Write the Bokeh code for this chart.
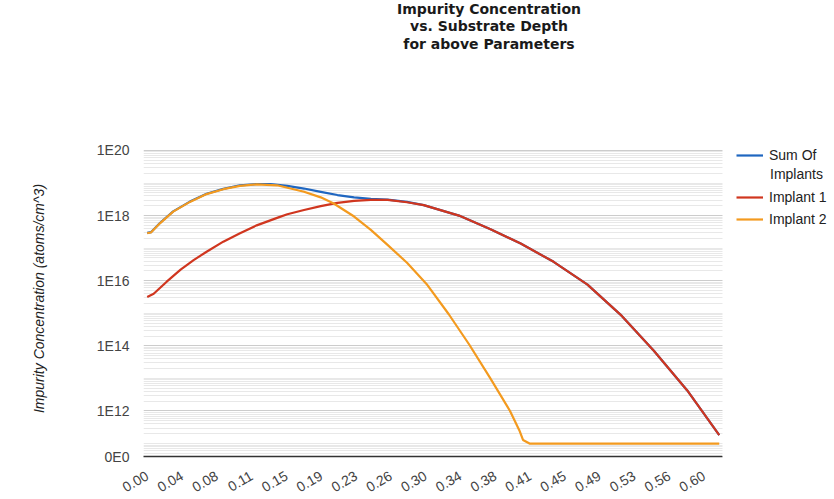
import math
from bokeh.plotting import figure
from bokeh.models import (Range1d, FixedTicker, Legend, LegendItem, Title, Label, BoxAnnotation)
from bokeh.embed import file_html
from bokeh.resources import INLINE

# ---------------- data ----------------
title_lines = ["Impurity Concentration", "vs. Substrate Depth", "for above Parameters"]
y_title = "Impurity Concentration (atoms/cm^3)"

x_ticks = [0.0, 0.0375, 0.075, 0.1125, 0.15, 0.1875, 0.225, 0.2625, 0.3,
           0.3375, 0.375, 0.4125, 0.45, 0.4875, 0.525, 0.5625, 0.6]
x_tick_labels = ["0.00", "0.04", "0.08", "0.11", "0.15", "0.19", "0.23", "0.26", "0.30",
                 "0.34", "0.38", "0.41", "0.45", "0.49", "0.53", "0.56", "0.60"]

y_ticks = [4e10, 1e12, 1e14, 1e16, 1e18, 1e20]
y_tick_labels = ["0E0", "1E12", "1E14", "1E16", "1E18", "1E20"]

sum_depth = [0.000, 0.004, 0.014, 0.028, 0.046, 0.064, 0.082, 0.100, 0.118, 0.133,
             0.151, 0.169, 0.187, 0.205, 0.223, 0.241, 0.259, 0.280, 0.298, 0.336,
             0.370, 0.4025, 0.438, 0.4745, 0.510, 0.546, 0.582, 0.6165]
sum_conc = [2.95e17, 3.09e17, 6.03e17, 1.35e18, 2.69e18, 4.68e18, 6.61e18, 8.51e18, 9.33e18, 9.33e18,
            8.13e18, 6.76e18, 5.37e18, 4.27e18, 3.63e18, 3.24e18, 3.09e18, 2.63e18, 2.09e18, 1.0e18,
            3.80e17, 1.38e17, 3.80e16, 7.59e15, 9.12e14, 7.08e13, 4.27e12, 1.82e11]

imp1_depth = [0.000, 0.007, 0.021, 0.036, 0.050, 0.064, 0.082, 0.100, 0.118, 0.140,
              0.151, 0.169, 0.187, 0.205, 0.223, 0.241, 0.259, 0.280, 0.298, 0.336,
              0.370, 0.4025, 0.438, 0.4745, 0.510, 0.546, 0.582, 0.6165]
imp1_conc = [3.16e15, 3.98e15, 9.33e15, 2.19e16, 4.27e16, 7.76e16, 1.58e17, 2.88e17, 5.01e17, 8.51e17,
             1.10e18, 1.48e18, 1.95e18, 2.45e18, 2.82e18, 3.02e18, 3.02e18, 2.57e18, 2.09e18, 1.0e18,
             3.80e17, 1.38e17, 3.80e16, 7.59e15, 9.12e14, 7.08e13, 4.27e12, 1.82e11]

imp2_depth = [0.000, 0.004, 0.014, 0.028, 0.046, 0.064, 0.082, 0.100, 0.118, 0.140,
              0.169, 0.187, 0.201, 0.223, 0.241, 0.259, 0.280, 0.301, 0.325, 0.347,
              0.369, 0.391, 0.401, 0.405, 0.412, 0.6165]
imp2_conc = [2.88e17, 3.02e17, 5.89e17, 1.32e18, 2.63e18, 4.57e18, 6.46e18, 8.13e18, 9.12e18, 8.51e18,
             5.37e18, 3.63e18, 2.34e18, 9.33e17, 3.63e17, 1.26e17, 3.55e16, 7.94e15, 9.33e14, 1.10e14,
             1.1e13, 1.0e12, 2.57e11, 1.29e11, 1.0e11, 1.0e11]

series_names = ["Sum Of", "Implant 1", "Implant 2"]
series_cont = "Implants"
series_colors = ["#1f66c0", "#d0361f", "#f39a1f"]

# ---------------- layout constants ----------------
W, H = 834, 499
FL, FB = 143, 458                   # frame left / frame bottom (px)
DATA_TOP = 150                      # pixel row of 1E20
FT = 140                            # frame top (a little above 1E20 so the legend is not clipped)
DATA_RIGHT = 722                    # right edge of plotting area (px)
X0, X1 = -0.004, 0.620              # visible depth range
Y0, Y1 = 4e10, 1e20                 # visible concentration range
px_per_unit = (DATA_RIGHT - FL) / (X1 - X0)
x_end = X0 + (W - FL) / px_per_unit
px_per_decade = (FB - DATA_TOP) / (math.log10(Y1) - math.log10(Y0))
y_end = 10 ** (math.log10(Y1) + (DATA_TOP - FT) / px_per_decade)

FONT = "Liberation Sans"
p = figure(width=W, height=H, output_backend="svg", toolbar_location=None,
           y_axis_type="log",
           x_range=Range1d(X0, x_end), y_range=Range1d(Y0, y_end),
           min_border_left=FL, min_border_right=0, min_border_top=FT, min_border_bottom=H - FB)
p.outline_line_color = None
p.background_fill_color = "white"

# minor grid positions (log decades)
minor = []
for e in range(10, 20):
    for k in range(1, 10):
        v = k * 10.0 ** e
        if k == 1 and e % 2 == 0:
            continue
        if Y0 < v < Y1:
            minor.append(v)

p.yaxis.ticker = FixedTicker(ticks=y_ticks, minor_ticks=minor)
p.yaxis.major_label_overrides = {t: l for t, l in zip(y_ticks, y_tick_labels)}
p.yaxis.axis_line_color = None
p.yaxis.major_tick_line_color = None
p.yaxis.minor_tick_line_color = None
p.yaxis.major_label_standoff = 8
p.yaxis.major_label_text_font = FONT
p.yaxis.major_label_text_font_size = "14px"
p.yaxis.major_label_text_color = "#444444"
p.yaxis.axis_label = y_title
p.yaxis.axis_label_text_font = FONT
p.yaxis.axis_label_text_font_style = "italic"
p.yaxis.axis_label_text_font_size = "14px"
p.yaxis.axis_label_text_color = "#222222"
p.yaxis.axis_label_standoff = 47

p.ygrid.grid_line_color = "#cccccc"
p.ygrid.minor_grid_line_color = "#e8e8e8"
p.xgrid.grid_line_color = None

p.xaxis.ticker = FixedTicker(ticks=x_ticks)
p.xaxis.bounds = (X0, X1)
p.xaxis.major_label_overrides = {t: l for t, l in zip(x_ticks, x_tick_labels)}
p.xaxis.major_label_orientation = math.pi / 6
p.xaxis.axis_line_color = "#333333"
p.xaxis.axis_line_width = 1.5
p.xaxis.major_tick_line_color = None
p.xaxis.minor_tick_line_color = None
p.xaxis.major_label_standoff = 12
p.xaxis.major_label_text_font = FONT
p.xaxis.major_label_text_font_size = "14px"
p.xaxis.major_label_text_color = "#444444"

r_sum = p.line(sum_depth, sum_conc, line_color=series_colors[0], line_width=2.2, line_join="round")
r1 = p.line(imp1_depth, imp1_conc, line_color=series_colors[1], line_width=2.2, line_join="round")
r2 = p.line(imp2_depth, imp2_conc, line_color=series_colors[2], line_width=2.2, line_join="round")

# white cover for the legend area to the right of the plotting area
p.add_layout(BoxAnnotation(left=X1, fill_color="white", fill_alpha=1.0, line_color=None))

# legend entries, one Legend each for exact placement (y = legend bottom above frame bottom)
legend_centers = [156.7, 199.3, 221.0]
for name, r, cy in zip(series_names, [r_sum, r1, r2], legend_centers):
    lg = Legend(items=[LegendItem(label=name, renderers=[r])],
                location=(736 - FL, FB - (cy + 10)),
                padding=0, margin=0, spacing=0, border_line_color=None,
                background_fill_alpha=0, glyph_width=27, glyph_height=20,
                label_height=20, label_standoff=6,
                label_text_font=FONT, label_text_font_size="14px", label_text_color="#222222")
    p.add_layout(lg, "center")

p.add_layout(Label(x=769.5 - FL, y=FB - 175, x_units="screen", y_units="screen", text=series_cont,
                   text_baseline="middle", text_align="left", text_font=FONT,
                   text_font_size="14px", text_color="#222222"))

# title: spacer closest to the frame, then lines (outermost added last)
p.add_layout(Title(text=" ", standoff=71, text_font_size="14px"), "above")
for i, t in reversed(list(enumerate(title_lines))):
    first = (i == 0)
    p.add_layout(Title(text=t, align="center", standoff=(-6 if first else 0),
                       vertical_align=("top" if first else "bottom"),
                       text_font="DejaVu Sans", text_font_style="bold",
                       text_font_size="14px", text_color="#1a1a1a"), "above")

open("out.html", "w").write(file_html(p, INLINE))
